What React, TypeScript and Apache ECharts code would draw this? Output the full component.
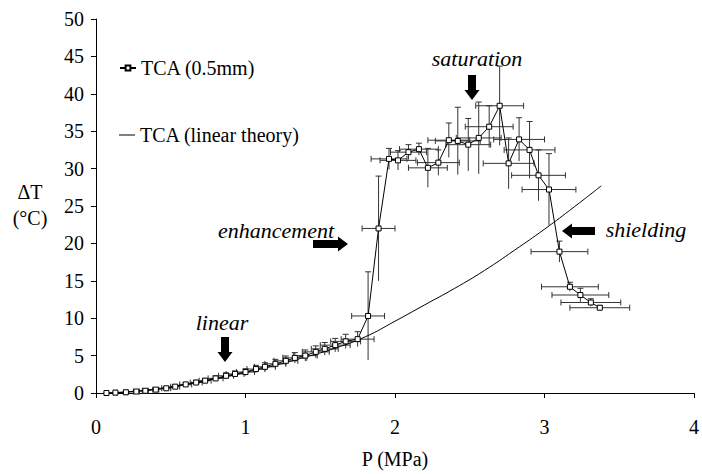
import React, { useEffect, useRef } from "react";
import * as echarts from "echarts";

// ---- data ----
const tcaP = [
  0.07, 0.13, 0.2, 0.27, 0.33, 0.4, 0.47, 0.53, 0.6, 0.67, 0.73, 0.8, 0.87, 0.93, 1.0, 1.07, 1.13, 1.2, 1.27, 1.33,
  1.4, 1.47, 1.53, 1.6, 1.67, 1.75,
  1.82, 1.89, 1.96, 2.02, 2.09, 2.16, 2.22, 2.29, 2.36, 2.42, 2.49, 2.56, 2.63, 2.7, 2.76, 2.83, 2.9, 2.96, 3.03,
  3.1, 3.17, 3.24, 3.31, 3.37,
];
const tcaT = [
  0.0, 0.05, 0.1, 0.2, 0.3, 0.45, 0.63, 0.85, 1.15, 1.4, 1.65, 1.95, 2.3, 2.55, 2.8, 3.2, 3.5, 3.9, 4.3, 4.7,
  5.0, 5.5, 5.9, 6.4, 6.9, 7.2,
  10.3, 22.0, 31.3, 31.1, 32.2, 32.6, 30.1, 30.8, 33.8, 33.7, 33.2, 34.1, 35.6, 38.4, 30.7, 33.9, 32.5, 29.1, 27.2,
  18.9, 14.2, 13.1, 12.1, 11.4,
];
const tcaPErr = [
  0.01, 0.01, 0.01, 0.02, 0.02, 0.02, 0.03, 0.03, 0.04, 0.04, 0.04, 0.05, 0.05, 0.06, 0.06, 0.06, 0.07, 0.07, 0.08, 0.08,
  0.08, 0.09, 0.09, 0.1, 0.1, 0.11,
  0.11, 0.11, 0.12, 0.12, 0.12, 0.13, 0.13, 0.14, 0.14, 0.15, 0.15, 0.15, 0.16, 0.16, 0.17, 0.17, 0.17, 0.18, 0.18,
  0.19, 0.19, 0.19, 0.2, 0.2,
];
const tcaTErr = [
  0.05, 0.05, 0.1, 0.1, 0.1, 0.15, 0.2, 0.2, 0.25, 0.3, 0.3, 0.35, 0.4, 0.4, 0.45, 0.5, 0.55, 0.6, 0.65, 0.7,
  0.75, 0.8, 0.85, 0.9, 0.95, 1.0,
  5.9, 7.0, 1.4, 1.3, 1.0, 0.8, 2.6, 1.7, 2.3, 4.5, 3.5, 4.8, 2.8, 5.3, 3.4, 2.9, 3.8, 3.4, 4.8,
  1.4, 0.6, 0.9, 0.5, 0.3,
];

const theoryP = [0.07, 0.2, 0.4, 0.6, 0.8, 1.0, 1.2, 1.4, 1.6, 1.8, 2.0, 2.2, 2.4, 2.6, 2.8, 3.0, 3.2, 3.38];
const theoryT = [0.0, 0.15, 0.55, 1.15, 1.9, 2.75, 3.7, 4.8, 6.0, 7.5, 9.6, 11.8, 14.0, 16.4, 19.1, 21.9, 24.9, 27.7];

const xTicks = [0, 1, 2, 3, 4];
const yTicks = [0, 5, 10, 15, 20, 25, 30, 35, 40, 45, 50];

const SERIES_TCA = "TCA (0.5mm)";
const SERIES_THEORY = "TCA (linear theory)";

const FONT = "Liberation Serif, serif";
const FS = 20;
const AFS = 22;

function arrowDown(cx: number, top: number, bottom: number, w: number, shaft: number, head: number) {
  const hb = bottom - head;
  return [
    [cx - shaft / 2, top], [cx + shaft / 2, top], [cx + shaft / 2, hb], [cx + w / 2, hb],
    [cx, bottom], [cx - w / 2, hb], [cx - shaft / 2, hb],
  ];
}
function arrowH(cy: number, tail: number, tip: number, h: number, shaft: number, head: number) {
  const dir = tip > tail ? 1 : -1;
  const hb = tip - dir * head;
  return [
    [tail, cy - shaft / 2], [hb, cy - shaft / 2], [hb, cy - h / 2], [tip, cy],
    [hb, cy + h / 2], [hb, cy + shaft / 2], [tail, cy + shaft / 2],
  ];
}

export default function App() {
  const ref = useRef<HTMLDivElement>(null);
  useEffect(() => {
    if (!ref.current) return;
    const chart = echarts.init(ref.current, undefined, { renderer: "svg" });
    const errData = tcaP.map((p, i) => [p, tcaT[i], tcaPErr[i], tcaTErr[i]]);
    const lbl = { fontFamily: FONT, fontSize: FS, color: "#000" };
    const ann = (text: string, x: number, y: number) => ({
      type: "text", x, y,
      style: { text, fontFamily: FONT, fontStyle: "italic", fontSize: AFS, fill: "#000", align: "center", verticalAlign: "middle" },
    });
    const option: any = {
      animation: false,
      backgroundColor: "#fff",
      textStyle: { fontFamily: FONT },
      grid: { left: 96, top: 19, width: 600, height: 378, containLabel: false },
      legend: [
        {
          data: [SERIES_TCA], left: 114, top: 53, orient: "vertical", itemWidth: 16, itemHeight: 6,
          textStyle: lbl,
        },
        {
          data: [SERIES_THEORY], left: 114, top: 120, orient: "vertical", itemWidth: 16, itemHeight: 1,
          icon: "rect", itemStyle: { color: "#000" },
          textStyle: lbl,
        },
      ],
      xAxis: {
        type: "value", min: xTicks[0], max: xTicks[xTicks.length - 1], interval: 1,
        name: "P (MPa)", nameLocation: "middle", nameGap: 56,
        nameTextStyle: lbl,
        axisLine: { lineStyle: { color: "#000", width: 1 } },
        axisTick: { show: true, length: 5, lineStyle: { color: "#000" } },
        axisLabel: { ...lbl, margin: 24 },
        splitLine: { show: false },
      },
      yAxis: {
        type: "value", min: yTicks[0], max: yTicks[yTicks.length - 1], interval: 5,
        axisLine: { show: true, lineStyle: { color: "#000", width: 1 } },
        axisTick: { show: true, length: 5, lineStyle: { color: "#000" } },
        axisLabel: { ...lbl, margin: 12 },
        splitLine: { show: false },
      },
      series: [
        {
          type: "custom",
          name: "errors",
          z: 1,
          silent: true,
          data: errData,
          renderItem: (params: any, api: any) => {
            const p = api.value(0), t = api.value(1), pe = api.value(2), te = api.value(3);
            const c = api.coord([p, t]);
            const top = api.coord([p, t + te]);
            const bot = api.coord([p, t - te]);
            const l = api.coord([p - pe, t]);
            const r = api.coord([p + pe, t]);
            const st = { stroke: "#333", lineWidth: 1 };
            const cap = 3;
            return {
              type: "group",
              children: [
                { type: "line", shape: { x1: c[0], y1: top[1], x2: c[0], y2: bot[1] }, style: st },
                { type: "line", shape: { x1: c[0] - cap, y1: top[1], x2: c[0] + cap, y2: top[1] }, style: st },
                { type: "line", shape: { x1: l[0], y1: c[1], x2: r[0], y2: c[1] }, style: st },
                { type: "line", shape: { x1: l[0], y1: c[1] - cap, x2: l[0], y2: c[1] + cap }, style: st },
                { type: "line", shape: { x1: r[0], y1: c[1] - cap, x2: r[0], y2: c[1] + cap }, style: st },
              ],
            };
          },
        },
        {
          type: "line",
          name: SERIES_THEORY,
          z: 2,
          smooth: true,
          symbol: "none",
          lineStyle: { color: "#000", width: 1 },
          itemStyle: { color: "#000" },
          data: theoryP.map((p, i) => [p, theoryT[i]]),
        },
        {
          type: "line",
          name: SERIES_TCA,
          z: 3,
          symbol: "rect",
          symbolSize: 5,
          lineStyle: { color: "#000", width: 1 },
          itemStyle: { color: "#fff", borderColor: "#000", borderWidth: 1 },
          data: tcaP.map((p, i) => [p, tcaT[i]]),
        },
      ],
      graphic: [
        { type: "text", x: 30, y: 192, style: { text: "\u0394T", fontFamily: FONT, fontSize: FS, fill: "#000", align: "center", verticalAlign: "middle" } },
        { type: "text", x: 30, y: 218, style: { text: "(\u00B0C)", fontFamily: FONT, fontSize: FS, fill: "#000", align: "center", verticalAlign: "middle" } },
        ann("saturation", 477, 58),
        { type: "polygon", shape: { points: arrowDown(472, 75, 100, 15, 8, 10) }, style: { fill: "#000" } },
        ann("enhancement", 276, 230),
        { type: "polygon", shape: { points: arrowH(244, 313, 348, 15, 8, 10) }, style: { fill: "#000" } },
        ann("shielding", 646, 229),
        { type: "polygon", shape: { points: arrowH(231, 595, 562, 15, 8, 10) }, style: { fill: "#000" } },
        ann("linear", 222, 322),
        { type: "polygon", shape: { points: arrowDown(225, 337, 362, 15, 8, 10) }, style: { fill: "#000" } },
      ],
    };
    chart.setOption(option);
    return () => chart.dispose();
  }, []);
  return <div ref={ref} style={{ position: "fixed", left: 0, top: 0, width: 702, height: 474 }} />;
}
